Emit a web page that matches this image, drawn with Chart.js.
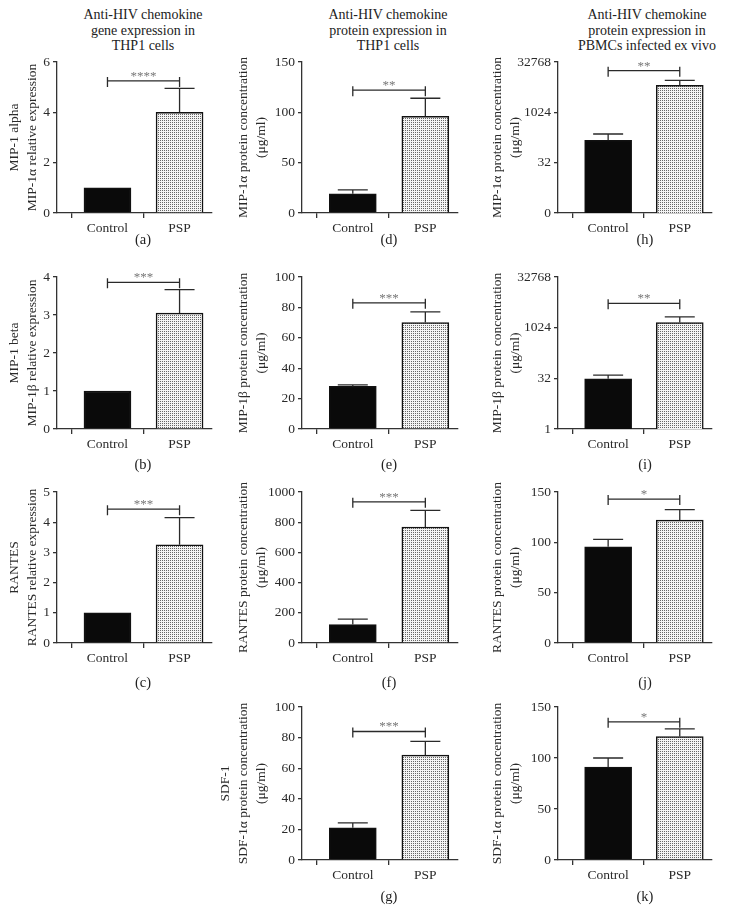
<!DOCTYPE html>
<html lang="en">
  <head>
    <meta charset="UTF-8" />
    <title>Anti-HIV chemokines</title>
    <script src="https://cdn.jsdelivr.net/npm/chart.js@4"></script>
    <style>
      body { margin: 0; background: #fff; }
      #fig { position: relative; width: 741px; height: 910px; font-family: "Liberation Serif", serif; color: #222; }
      .head { position: absolute; width: 220px; text-align: center; font-size: 14px; line-height: 15.5px; }
      .tag { position: absolute; width: 40px; text-align: center; font-size: 14.5px; line-height: 16px; }
      canvas { position: absolute; }
    </style>
  </head>
  <body>
    <div id="fig"></div>
  </body>
</html>

<script>
  // values (Control, PSP)
  var groups = ["Control", "PSP"];
  var panels = ["a", "b", "c", "d", "e", "f", "g", "h", "i", "j", "k"];
  var means = [[1, 4.0], [1, 3.05], [1, 3.25], [19, 96], [28, 70], [122, 768], [21, 68.5], [150, 6600], [31, 1450], [95.5, 122], [91, 121]];
  var sems = [[0, 0.95], [0, 0.62], [0, 0.9], [4, 18], [1, 7], [36, 110], [3.3, 9], [80, 2600], [9, 700], [7.5, 10.5], [9, 7.5]];
  var bracketAt = [5.25, 3.86, 4.43, 122, 83, 935, 84, 18000, 5400, 143, 135.5];
  var stars = ["****", "***", "***", "**", "***", "***", "***", "**", "**", "*", "*"];
  var yTicks = [[0, 2, 4, 6], [0, 1, 2, 3, 4], [0, 1, 2, 3, 4, 5], [0, 50, 100, 150], [0, 20, 40, 60, 80, 100], [0, 200, 400, 600, 800, 1000], [0, 20, 40, 60, 80, 100], [1, 32, 1024, 32768], [1, 32, 1024, 32768], [0, 50, 100, 150], [0, 50, 100, 150]];
  var yTickLabels = [null, null, null, null, null, null, null, ["0", "32", "1024", "32768"], ["1", "32", "1024", "32768"], null, null];
  var logAxis = [false, false, false, false, false, false, false, true, true, false, false];
  var yTitles = [
    ["MIP-1 alpha", "MIP-1α relative expression"],
    ["MIP-1 beta", "MIP-1β relative expression"],
    ["RANTES", "RANTES relative expression"],
    ["MIP-1α protein concentration", "(μg/ml)"],
    ["MIP-1β protein concentration", "(μg/ml)"],
    ["RANTES protein concentration", "(μg/ml)"],
    ["SDF-1", "SDF-1α protein concentration", "(μg/ml)"],
    ["MIP-1α protein concentration", "(μg/ml)"],
    ["MIP-1β protein concentration", "(μg/ml)"],
    ["RANTES protein concentration", "(μg/ml)"],
    ["SDF-1α protein concentration", "(μg/ml)"]
  ];
  var headers = [
    ["Anti-HIV chemokine", "gene expression in", "THP1 cells"],
    ["Anti-HIV chemokine", "protein expression in", "THP1 cells"],
    ["Anti-HIV chemokine", "protein expression in", "PBMCs infected ex vivo"]
  ];

  // grid placement
  var colOf = [0, 0, 0, 1, 1, 1, 1, 2, 2, 2, 2];
  var rowOf = [0, 1, 2, 0, 1, 2, 3, 0, 1, 2, 3];
  var colLeft = [0, 215, 470];
  var colWidth = [215, 255, 271];
  var yAxisW = [57, 87, 88];
  var padRight = [3, 12, 29];
  var lastTitleX = [32, 261, 515];
  var headCenter = [143, 388, 647];
  var tagCenter = [143, 389, 645];
  var areaTop = [62, 277, 492, 707];
  var areaH = [151, 152, 151, 153];
  var tagY = [239, 464, 682, 896];

  var fig = document.getElementById("fig");
  var serif = "'Liberation Serif', 'Times New Roman', serif";
  var ink = "#2a2a2a";

  headers.forEach(function (lines, c) {
    var d = document.createElement("div");
    d.className = "head";
    d.style.left = (headCenter[c] - 110) + "px";
    d.style.top = "7px";
    d.innerHTML = lines.join("<br>");
    fig.appendChild(d);
  });

  // dotted fill for PSP bars
  var tile = document.createElement("canvas");
  tile.width = 2;
  tile.height = 2;
  var tc = tile.getContext("2d");
  tc.fillStyle = "#f4f4f4";
  tc.fillRect(0, 0, 2, 2);
  tc.fillStyle = "#666";
  tc.fillRect(0, 0, 1, 1);
  var dots = tc.createPattern(tile, "repeat");

  var extras = {
    id: "extras",
    afterDatasetsDraw: function (chart, args, opts) {
      var p = opts.panel;
      var ctx = chart.ctx;
      var x = chart.scales.x;
      var y = chart.scales.y;
      ctx.save();
      ctx.strokeStyle = ink;
      ctx.lineWidth = 1.3;
      ctx.beginPath();
      for (var k = 0; k < 2; k++) {
        if (!sems[p][k]) continue;
        var cx = x.getPixelForValue(k);
        var top = y.getPixelForValue(means[p][k] + sems[p][k]);
        var base = y.getPixelForValue(means[p][k]);
        ctx.moveTo(cx, base);
        ctx.lineTo(cx, top);
        ctx.moveTo(cx - 15, top);
        ctx.lineTo(cx + 15, top);
      }
      var by = y.getPixelForValue(bracketAt[p]);
      var x0 = x.getPixelForValue(0);
      var x1 = x.getPixelForValue(1);
      ctx.moveTo(x0, by);
      ctx.lineTo(x1, by);
      ctx.moveTo(x0, by - 4);
      ctx.lineTo(x0, by + 6);
      ctx.moveTo(x1, by - 4);
      ctx.lineTo(x1, by + 6);
      ctx.stroke();
      ctx.fillStyle = "#777";
      ctx.font = "13px " + serif;
      ctx.textAlign = "center";
      ctx.textBaseline = "alphabetic";
      ctx.fillText(stars[p], (x0 + x1) / 2, by - 1);
      ctx.restore();
    }
  };

  panels.forEach(function (name, p) {
    var c = colOf[p];
    var r = rowOf[p];
    var cv = document.createElement("canvas");
    cv.width = colWidth[c];
    cv.height = 12 + areaH[r] + 25;
    cv.style.left = colLeft[c] + "px";
    cv.style.top = (areaTop[r] - 12) + "px";
    fig.appendChild(cv);

    var tag = document.createElement("div");
    tag.className = "tag";
    tag.style.left = (tagCenter[c] - 20) + "px";
    tag.style.top = (tagY[r] - 8) + "px";
    tag.textContent = "(" + name + ")";
    fig.appendChild(tag);

    // first title line sits left of the others, last line is fixed per column
    var titlePad = lastTitleX[c] - colLeft[c] - 9 - 18 * (yTitles[p].length - 1);

    new Chart(cv, {
      type: "bar",
      data: {
        datasets: [
          {
            data: [{ x: 0, y: means[p][0] }, { x: 1, y: means[p][1] }],
            backgroundColor: ["#0a0a0a", dots],
            borderColor: "#111",
            borderWidth: 1.5,
            barThickness: 47
          }
        ]
      },
      plugins: [extras],
      options: {
        responsive: false,
        animation: false,
        devicePixelRatio: 1,
        layout: { padding: { top: 12, right: padRight[c], left: 0, bottom: 0 } },
        plugins: {
          legend: { display: false },
          tooltip: { enabled: false },
          extras: { panel: p }
        },
        scales: {
          x: {
            type: "linear",
            min: -0.7,
            max: 1.45,
            offset: false,
            afterBuildTicks: function (s) { s.ticks = [{ value: 0 }, { value: 1 }]; },
            afterFit: function (s) { s.height = 25; },
            ticks: {
              callback: function (v) { return groups[v]; },
              font: { family: serif, size: 13.5 },
              color: ink,
              padding: 2,
              maxRotation: 0,
              autoSkip: false
            },
            grid: { drawOnChartArea: false, tickLength: 5, color: "#333", lineWidth: 1.3 },
            border: { color: "#333", width: 1.3 }
          },
          y: {
            type: logAxis[p] ? "logarithmic" : "linear",
            min: yTicks[p][0],
            max: yTicks[p][yTicks[p].length - 1],
            afterBuildTicks: function (s) { s.ticks = yTicks[p].map(function (v) { return { value: v }; }); },
            afterFit: function (s) { s.width = yAxisW[c]; },
            ticks: {
              callback: function (v, i) { return yTickLabels[p] ? yTickLabels[p][i] : String(v); },
              font: { family: serif, size: 13.5 },
              color: ink,
              padding: 3
            },
            grid: { drawOnChartArea: false, tickLength: 4, color: "#333", lineWidth: 1.3 },
            border: { color: "#333", width: 1.3 },
            title: {
              display: true,
              text: yTitles[p],
              font: { family: serif, size: 13.5, lineHeight: "18px" },
              color: ink,
              padding: { top: titlePad, bottom: 0 }
            }
          }
        }
      }
    });
  });
</script>
